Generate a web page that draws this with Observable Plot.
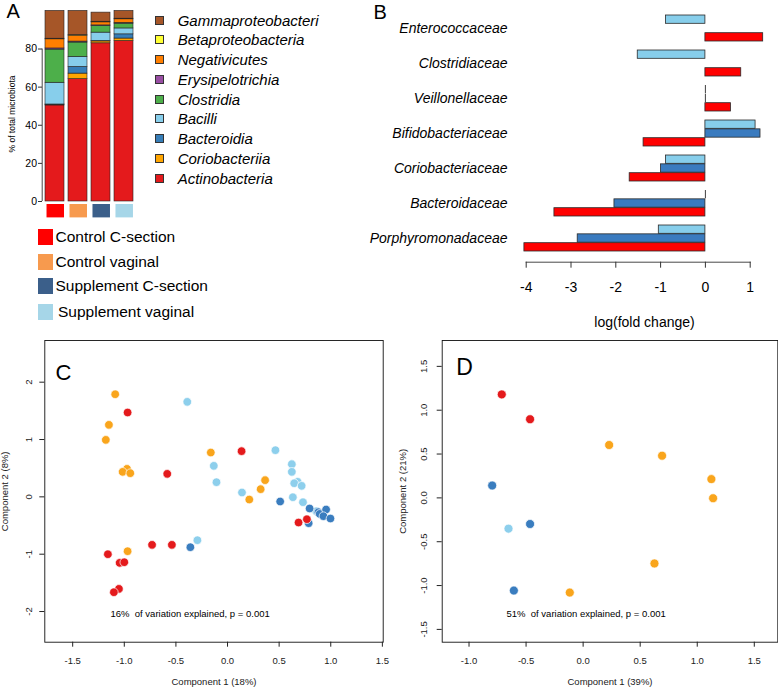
<!DOCTYPE html>
<html><head><meta charset="utf-8">
<script src="https://cdn.jsdelivr.net/npm/d3@7"></script>
<script src="https://cdn.jsdelivr.net/npm/@observablehq/plot@0.6"></script>
<style>
body{margin:0;background:#fff;}
#root{position:relative;width:778px;height:688px;overflow:hidden;font-family:"Liberation Sans",Arial,Helvetica,sans-serif;color:#000;background:#fff;}
#root .abs{position:absolute;white-space:nowrap;}
#root svg{position:absolute;overflow:visible;background:transparent;}
</style></head><body><div id="root"></div>
<script>
// ---------- Panel A data ----------
const groups = ["Control C-section","Control vaginal","Supplement C-section","Supplement vaginal"];
const groupColors = ["#FF0000","#F79A4E","#3B5F8A","#A6D6E8"];
const classes = ["Actinobacteria","Coriobacteriia","Bacteroidia","Bacilli","Clostridia","Erysipelotrichia","Negativicutes","Betaproteobacteria","Gammaproteobacteri"];
const classColors = ["#E41A1C","#FFA500","#377EB8","#87CEEB","#4DAF4A","#984EA3","#FF7F00","#FFFF33","#A65628"];
const actinobacteria     = [50.4, 64.2, 83.0, 84.2];
const coriobacteriia     = [0.4, 2.9, 1.0, 1.3];
const bacteroidia        = [0.1, 3.5, 0.2, 2.2];
const bacilli            = [11.4, 5.3, 4.4, 3.1];
const clostridia         = [17.4, 7.5, 3.5, 2.5];
const erysipelotrichia   = [0.6, 0.5, 0.3, 0.4];
const negativicutes      = [4.8, 3.1, 1.6, 1.9];
const betaproteobacteria = [0.3, 0.3, 0.3, 0.3];
const gammaproteobacteria= [14.6, 12.7, 4.8, 4.1];
const aTicks = [0, 20, 40, 60, 80];

// ---------- Panel B data ----------
const families = ["Enterococcaceae","Clostridiaceae","Veillonellaceae","Bifidobacteriaceae","Coriobacteriaceae","Bacteroidaceae","Porphyromonadaceae"];
const fcSupplementVaginal  = [-0.88, -1.51, 0, 1.12, -0.88, 0, -1.04];
const fcSupplementCsection = [null, null, 0, 1.23, -0.99, -2.03, -2.85];
const fcControlCsection    = [1.29, 0.80, 0.57, -1.38, -1.69, -3.37, -4.04];
const bTicks = [-4, -3, -2, -1, 0, 1];

// ---------- Panel C data ----------
const cCtrlCsX = [-0.968, -0.584, 0.136, 0.688, 0.769, -0.731, -0.539, -1.159, -1.045, -1.0, -1.052, -1.101];
const cCtrlCsY = [1.471, 0.401, 0.797, -0.448, -0.390, -0.837, -0.837, -1.0, -1.151, -1.14, -1.605, -1.663];
const cCtrlVgX = [-1.088, -1.149, -1.179, -0.974, -1.016, -0.942, -0.162, 0.364, 0.321, 0.211, -0.968];
const cCtrlVgY = [1.79, 1.256, 0.994, 0.488, 0.436, 0.413, 0.773, 0.291, 0.134, -0.047, -0.948];
const cSupVgX  = [-0.390, -0.133, -0.107, 0.140, 0.464, 0.623, 0.623, 0.679, 0.646, 0.718, 0.633, 0.731, -0.292, 0.86];
const cSupVgY  = [1.657, 0.541, 0.256, 0.076, 0.814, 0.570, 0.436, 0.262, 0.238, 0.192, -0.006, -0.093, -0.756, -0.25];
const cSupCsX  = [0.510, 0.795, 0.880, 0.893, 0.955, 0.929, 0.997, 0.786, -0.360];
const cSupCsY  = [-0.081, -0.203, -0.267, -0.297, -0.221, -0.337, -0.378, -0.459, -0.878];
const cXTicks = [-1.5, -1.0, -0.5, 0.0, 0.5, 1.0, 1.5];
const cYTicks = [-2, -1, 0, 1, 2];

// ---------- Panel D data ----------
const dCtrlCsX = [-0.713, -0.465];
const dCtrlCsY = [1.18, 0.897];
const dCtrlVgX = [0.228, 0.692, 1.124, 1.139, 0.625, -0.117];
const dCtrlVgY = [0.603, 0.481, 0.214, -0.004, -0.748, -1.08];
const dSupCsX  = [-0.797, -0.465, -0.607];
const dSupCsY  = [0.141, -0.298, -1.057];
const dSupVgX  = [-0.654];
const dSupVgY  = [-0.351];
const dXTicks = [-1.0, -0.5, 0.0, 0.5, 1.0, 1.5];
const dYTicks = [-1.5, -1.0, -0.5, 0.0, 0.5, 1.0, 1.5];

const dotColors = ["#E41A1C","#F9A51C","#3A7DBF","#8DCFEC"];

// ---------- helpers ----------
const root = document.getElementById("root");
const FONT = "Liberation Sans, Arial, Helvetica, sans-serif";
function place(el, left, top){
  el.style.position = "absolute"; el.style.left = left + "px"; el.style.top = top + "px";
  el.style.background = "transparent"; el.style.overflow = "visible";
  root.appendChild(el); return el;
}
function label(text, left, top, css){
  const d = document.createElement("div");
  d.className = "abs"; d.textContent = text;
  d.style.left = left + "px"; d.style.top = top + "px";
  Object.assign(d.style, css || {});
  root.appendChild(d); return d;
}
function box(left, top, w, h, color, border){
  const d = document.createElement("div");
  d.className = "abs";
  Object.assign(d.style, {left: left+"px", top: top+"px", width: w+"px", height: h+"px", background: color, boxSizing: "border-box", border: border || "none"});
  root.appendChild(d); return d;
}
const fmt1 = d => d.toFixed(1);
const C = {textAnchor: "middle", lineAnchor: "middle"};

// ---------- Panel A ----------
const classValues = [actinobacteria, coriobacteriia, bacteroidia, bacilli, clostridia, erysipelotrichia, negativicutes, betaproteobacteria, gammaproteobacteria];
const aData = [];
groups.forEach((g, gi) => classes.forEach((c, ci) => aData.push({group: g, cls: c, value: classValues[ci][gi]})));

const xBandA = {domain: groups, paddingInner: 0.174, paddingOuter: 0.087, axis: null};
const plotA = Plot.plot({
  width: 145, height: 215,
  marginLeft: 43.3, marginRight: 9.7, marginTop: 10.4, marginBottom: 14,
  style: {fontFamily: FONT, background: "transparent", overflow: "visible"},
  x: xBandA,
  y: {domain: [0, 100]},
  color: {domain: classes, range: classColors},
  marks: [
    Plot.barY(aData, {x: "group", y: "value", fill: "cls", stroke: "#222", strokeWidth: 0.6}),
    Plot.ruleX([groups[0]], {x: d => d, y1: 0, y2: 80, dx: -12.8, stroke: "#333", strokeWidth: 0.9}),
    Plot.axisY({ticks: aTicks, tickSize: 4, tickPadding: 1.5, dx: -1.3, fontSize: 10.5, label: null, tickFormat: d => String(d), stroke: "#333"})
  ]
});
place(plotA, 0, 0);
// y-axis title of panel A (rotated)
label("% of total microbiota", 12, 114, {fontSize: "8.5px", lineHeight: "10px", transform: "translate(-50%,-50%) rotate(-90deg)", transformOrigin: "50% 50%"});

const plotAcells = Plot.plot({
  width: 145, height: 13.4,
  marginLeft: 43.3, marginRight: 9.7, marginTop: 0, marginBottom: 0,
  style: {background: "transparent"},
  x: xBandA,
  color: {domain: groups, range: groupColors},
  marks: [Plot.cell(groups, {x: d => d, fill: d => d, insetLeft: 1.5})]
});
place(plotAcells, 0, 204.3);

// class legend (top to bottom: reversed stacking order)
const legendOrder = classes.slice().reverse();
legendOrder.forEach((c, i) => {
  const cy = 20 + i * 19.75;
  box(155, cy - 4.5, 9, 9, classColors[classes.indexOf(c)], "1px solid #333");
  label(c, 177.7, cy - 7.4, {fontSize: "15px", lineHeight: "15px", fontStyle: "italic"});
});
// group legend
const groupRowY = [237, 261.5, 286, 311.5];
groups.forEach((g, i) => {
  const cy = groupRowY[i];
  box(38, cy - 8, 15, 16, groupColors[i]);
  label(g, i === 3 ? 58 : 55.5, cy - 7.6, {fontSize: "15.5px", lineHeight: "15.5px"});
});
label("A", 6.5, 0, {fontSize: "20px", lineHeight: "normal"});
label("B", 373.5, 0.5, {fontSize: "20px", lineHeight: "normal"});

// ---------- Panel B ----------
const seriesB = [
  {key: "Supplement vaginal", vals: fcSupplementVaginal, fill: "#87CEEB", slot: 0},
  {key: "Supplement C-section", vals: fcSupplementCsection, fill: "#3A7BBF", slot: 1},
  {key: "Control C-section", vals: fcControlCsection, fill: "#FF0000", slot: 2}
];
const hB = 340, mtB = 5.2, mbB = 78.3;
const stepB = (hB - mtB - mbB) / (families.length - 0.25 + 0.5);
const slotB = stepB * 0.75 / 3;
const marksB = [];
seriesB.forEach(s => {
  const rows = families.map((f, i) => ({family: f, value: s.vals[i]}));
  const insets = {insetTop: s.slot * slotB, insetBottom: (2 - s.slot) * slotB};
  marksB.push(Plot.barX(rows.filter(r => r.value !== null && r.value !== 0), {x: "value", y: "family", fill: s.fill, stroke: "#2a2a2a", strokeWidth: 0.8, ...insets}));
  marksB.push(Plot.tickX(rows.filter(r => r.value === 0), {x: "value", y: "family", stroke: "#2a2a2a", strokeWidth: 0.9, ...insets}));
});
const plotB = Plot.plot({
  width: 518, height: hB,
  marginLeft: 265.7, marginRight: 28.3, marginTop: mtB, marginBottom: mbB,
  style: {fontFamily: FONT, background: "transparent", overflow: "visible"},
  x: {domain: [-4, 1]},
  y: {domain: families, padding: 0.25},
  marks: [
    ...marksB,
    Plot.frame({anchor: "bottom", stroke: "#333", strokeWidth: 0.9}),
    Plot.axisX({ticks: bTicks, tickSize: 6, tickPadding: 14, fontSize: 14, label: null, tickFormat: d => String(d), stroke: "#333"}),
    Plot.axisY({tickSize: 0, tickPadding: 18.7, fontSize: 14, fontStyle: "italic", label: null}),
    Plot.text(["log(fold change)"], {text: d => d, frameAnchor: "bottom", dx: 6.3, dy: 60.3, fontSize: 14, ...C})
  ]
});
place(plotB, 260, 0);
plotB.querySelectorAll('g[aria-label="y-axis tick label"] text').forEach(t => t.style.fontStyle = "italic");

// ---------- Panels C & D ----------
function pcoaData(sets){
  const out = [];
  sets.forEach(([g, X, Y]) => X.forEach((x, i) => out.push({grp: g, x, y: Y[i]})));
  return out;
}
const cData = pcoaData([
  [groups[3], cSupVgX, cSupVgY],
  [groups[2], cSupCsX, cSupCsY],
  [groups[1], cCtrlVgX, cCtrlVgY],
  [groups[0], cCtrlCsX, cCtrlCsY]
]);
const dData = pcoaData([
  [groups[3], dSupVgX, dSupVgY],
  [groups[2], dSupCsX, dSupCsY],
  [groups[1], dCtrlVgX, dCtrlVgY],
  [groups[0], dCtrlCsX, dCtrlCsY]
]);

function pcoaPlot(o){
  return Plot.plot({
    width: o.width, height: 358,
    marginLeft: o.ml, marginRight: o.mr, marginTop: 10, marginBottom: 46.3,
    style: {fontFamily: FONT, background: "transparent", overflow: "visible"},
    x: {domain: o.xd},
    y: {domain: o.yd},
    color: {domain: groups, range: dotColors},
    marks: [
      Plot.frame({stroke: "#111", strokeWidth: 0.9}),
      Plot.dot(o.data, {x: "x", y: "y", fill: "grp", r: o.r, stroke: "white", strokeWidth: 0.7}),
      Plot.axisX({ticks: o.xt, tickSize: 5, tickPadding: 9.9, fontSize: 9.5, label: null, tickFormat: fmt1, stroke: "#222", fill: "#222"}),
      Plot.axisY({ticks: o.yt, tickSize: 5, label: null, tickFormat: () => "", stroke: "#222"}),
      Plot.text(o.yt, {y: d => d, text: o.yfmt, frameAnchor: "left", dx: o.ylx, rotate: -90, fontSize: 9.5, fill: "#222", ...C}),
      Plot.text([o.xlab], {text: d => d, frameAnchor: "bottom", dy: 40, fontSize: 9.5, fill: "#222", ...C}),
      Plot.text([o.ylab], {text: d => d, frameAnchor: "left", dx: o.ytx, rotate: -90, fontSize: 9.5, fill: "#222", ...C}),
      Plot.text([o.letter], {text: d => d, frameAnchor: "top-left", dx: o.lx, dy: o.ly, fontSize: o.lfs, ...C}),
      Plot.text([o.note], {text: d => d, frameAnchor: "bottom-left", textAnchor: "start", lineAnchor: "middle", dx: o.nx, dy: -28.4, fontSize: 9.5})
    ]
  });
}
const plotC = pcoaPlot({
  width: 395, ml: 44.3, mr: 12.3, xd: [-1.77, 1.508], yd: [-2.535, 2.727], data: cData, r: 4.3,
  xt: cXTicks, yt: cYTicks, yfmt: d => String(d), ylx: -16, ytx: -39.6,
  xlab: "Component 1 (18%)", ylab: "Component 2 (8%)",
  letter: "C", lx: 18.7, ly: 32.7, lfs: 22,
  note: "16%  of variation explained, p = 0.001", nx: 65.7
});
place(plotC, 0, 330);
const plotD = pcoaPlot({
  width: 388, ml: 51.7, mr: 0.7, xd: [-1.235, 1.706], yd: [-1.646, 1.795], data: dData, r: 4.5,
  xt: dXTicks, yt: dYTicks, yfmt: fmt1, ylx: -18.4, ytx: -39,
  xlab: "Component 1 (39%)", ylab: "Component 2 (21%)",
  letter: "D", lx: 22.3, ly: 27.3, lfs: 23,
  note: "51%  of variation explained, p = 0.001", nx: 64.3
});
place(plotD, 390, 330);
</script>
</body></html>
